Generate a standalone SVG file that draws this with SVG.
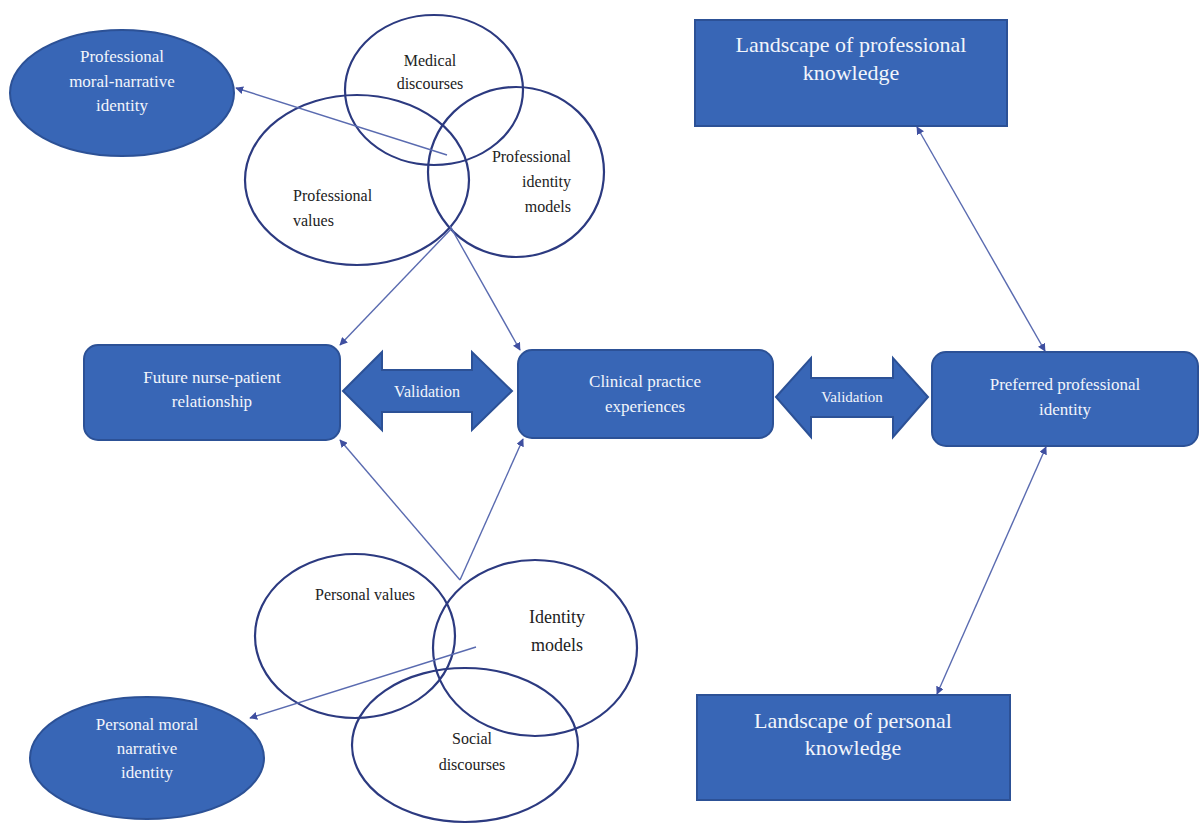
<svg xmlns="http://www.w3.org/2000/svg" width="1200" height="832" viewBox="0 0 1200 832">
<defs>
<style>
.fill{fill:#3866b6;stroke:#2c5196;stroke-width:2}
.ring{fill:none;stroke:#2c3a80;stroke-width:2.2}
.wt{font-family:'Liberation Serif','DejaVu Serif','Times New Roman',serif;fill:#f2f5fb;font-size:17px;text-anchor:middle}
.bt{font-family:'Liberation Serif','DejaVu Serif','Times New Roman',serif;fill:#222;font-size:16px;text-anchor:middle}
.st{text-anchor:start}
.en{text-anchor:end}
.big{font-size:22px}
.con{stroke:#5a6bb0;stroke-width:1.4;fill:none}
</style>
<marker id="ah" viewBox="0 0 10 10" refX="9" refY="5" markerWidth="8" markerHeight="8" orient="auto-start-reverse" markerUnits="userSpaceOnUse">
<path d="M0,0 L10,5 L0,10 z" fill="#3f4fa0"/>
</marker>
</defs>
<rect width="1200" height="832" fill="#ffffff"/>

<g id="prof-moral">
<ellipse class="fill" cx="122" cy="93" rx="112" ry="63"/>
<text class="wt" x="122" y="62">Professional</text>
<text class="wt" x="122" y="87">moral-narrative</text>
<text class="wt" x="122" y="111">identity</text>
</g>

<g id="venn-professional">
<ellipse class="ring" cx="434" cy="90" rx="89" ry="75"/>
<ellipse class="ring" cx="357" cy="180" rx="112" ry="85"/>
<ellipse class="ring" cx="516" cy="172" rx="88" ry="85"/>
<text class="bt" x="430" y="66">Medical</text>
<text class="bt" x="430" y="89">discourses</text>
<text class="bt st" x="293" y="201">Professional</text>
<text class="bt st" x="293" y="226">values</text>
<text class="bt en" x="571" y="162">Professional</text>
<text class="bt en" x="571" y="187">identity</text>
<text class="bt en" x="571" y="212">models</text>
</g>

<g id="landscape-prof">
<rect class="fill" x="695" y="20" width="312" height="106"/>
<text class="wt big" x="851" y="52">Landscape of professional</text>
<text class="wt big" x="851" y="80">knowledge</text>
</g>

<g id="future-nurse">
<rect class="fill" x="84" y="345" width="256" height="95" rx="14"/>
<text class="wt" x="212" y="383">Future nurse-patient</text>
<text class="wt" x="212" y="407">relationship</text>
</g>

<g id="clinical">
<rect class="fill" x="518" y="350" width="255" height="88" rx="14"/>
<text class="wt" x="645" y="387">Clinical practice</text>
<text class="wt" x="645" y="412">experiences</text>
</g>

<g id="preferred">
<rect class="fill" x="932" y="352" width="266" height="94" rx="14"/>
<text class="wt" x="1065" y="390">Preferred professional</text>
<text class="wt" x="1065" y="415">identity</text>
</g>

<g id="validation-1">
<path class="fill" d="M343,391 L382,352 L382,370 L472,370 L472,352 L512,391 L472,430 L472,412 L382,412 L382,430 Z"/>
<text class="wt" x="427" y="397" style="font-size:16px">Validation</text>
</g>

<g id="validation-2">
<path class="fill" d="M776,397 L811,358 L811,378 L893,378 L893,358 L928,397 L893,437 L893,417 L811,417 L811,437 Z"/>
<text class="wt" x="852" y="402" style="font-size:15px">Validation</text>
</g>

<g id="venn-personal">
<ellipse class="ring" cx="355" cy="636" rx="100" ry="82"/>
<ellipse class="ring" cx="535" cy="648" rx="102" ry="88"/>
<ellipse class="ring" cx="465" cy="745" rx="113" ry="77"/>
<text class="bt" x="365" y="600">Personal values</text>
<text class="bt" x="557" y="623" style="font-size:18px">Identity</text>
<text class="bt" x="557" y="651" style="font-size:18px">models</text>
<text class="bt" x="472" y="744">Social</text>
<text class="bt" x="472" y="770">discourses</text>
</g>

<g id="personal-moral">
<ellipse class="fill" cx="147" cy="758" rx="117" ry="61"/>
<text class="wt" x="147" y="730">Personal moral</text>
<text class="wt" x="147" y="754">narrative</text>
<text class="wt" x="147" y="778">identity</text>
</g>

<g id="landscape-personal">
<rect class="fill" x="697" y="695" width="313" height="105"/>
<text class="wt big" x="853" y="728">Landscape of personal</text>
<text class="wt big" x="853" y="755">knowledge</text>
</g>

<g id="connectors">
<line class="con" x1="447" y1="155" x2="236" y2="88" marker-end="url(#ah)"/>
<line class="con" x1="452" y1="228" x2="340" y2="345" marker-end="url(#ah)"/>
<line class="con" x1="450" y1="226" x2="520" y2="350" marker-end="url(#ah)"/>
<line class="con" x1="460" y1="580" x2="340" y2="440" marker-end="url(#ah)"/>
<line class="con" x1="460" y1="580" x2="523" y2="439" marker-end="url(#ah)"/>
<line class="con" x1="476" y1="647" x2="250" y2="718" marker-end="url(#ah)"/>
<line class="con" x1="917" y1="127" x2="1045" y2="351" marker-start="url(#ah)" marker-end="url(#ah)"/>
<line class="con" x1="1046" y1="447" x2="937" y2="694" marker-start="url(#ah)" marker-end="url(#ah)"/>
</g>
</svg>
